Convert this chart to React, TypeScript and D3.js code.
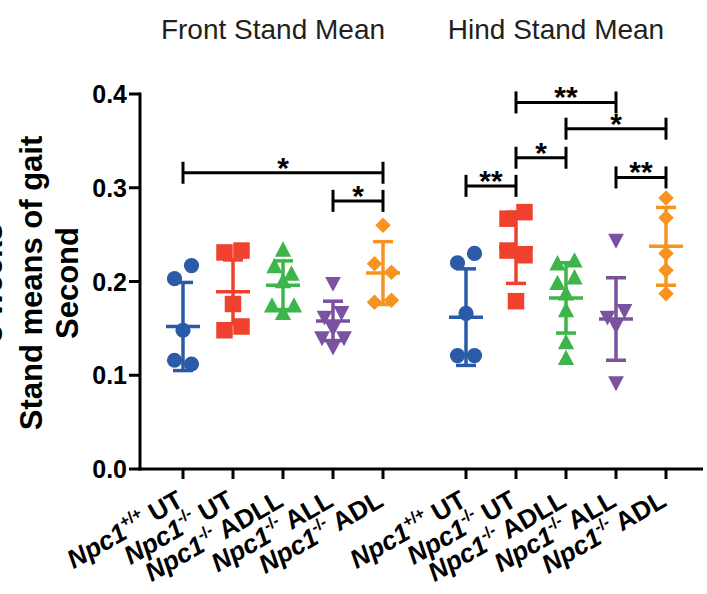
import React from "react";
import * as d3 from "d3";

// ---------- data ----------
const panelTitles = ["Front Stand Mean", "Hind Stand Mean"];
const genotypeSup = ["+/+", "-/-", "-/-", "-/-", "-/-"];
const treatments = ["UT", "UT", "ADLL", "ALL", "ADL"];
const groupColors = ["#2b5ba8", "#ef412e", "#3db54a", "#7b52a1", "#f6941f"];
const groupShapes = ["circle", "square", "triangle", "triangleDown", "diamond"];

const frontValues = [
  [0.203, 0.217, 0.148, 0.116, 0.112],
  [0.231, 0.233, 0.176, 0.148, 0.152],
  [0.2335, 0.216, 0.208, 0.2, 0.174, 0.166, 0.174],
  [0.198, 0.162, 0.167, 0.14, 0.15, 0.14, 0.13],
  [0.26, 0.219, 0.21, 0.178, 0.18],
];
const frontMean = [0.152, 0.189, 0.196, 0.158, 0.209];
const frontSD = [0.047, 0.034, 0.026, 0.021, 0.0335];

const hindValues = [
  [0.22, 0.23, 0.166, 0.121, 0.121],
  [0.267, 0.274, 0.233, 0.228, 0.179],
  [0.219, 0.222, 0.198, 0.204, 0.187, 0.169, 0.135, 0.118],
  [0.244, 0.162, 0.169, 0.153, 0.092],
  [0.289, 0.268, 0.23, 0.212, 0.187],
];
const hindMean = [0.162, 0.236, 0.1825, 0.16, 0.2375];
const hindSD = [0.0515, 0.038, 0.0375, 0.044, 0.0415];

const frontBrackets = [
  { from: 0, to: 4, level: 0.316, label: "*" },
  { from: 3, to: 4, level: 0.286, label: "*" },
];
const hindBrackets = [
  { from: 0, to: 1, level: 0.302, label: "**" },
  { from: 1, to: 2, level: 0.332, label: "*" },
  { from: 2, to: 4, level: 0.363, label: "*" },
  { from: 1, to: 3, level: 0.391, label: "**" },
  { from: 3, to: 4, level: 0.311, label: "**" },
];

const yTicks = [0, 0.1, 0.2, 0.3, 0.4];
const yTitleLines = ["3 weeks", "Stand means of gait", "Second"];

// ---------- layout ----------
const W = 707;
const H = 594;
const axisX = 140;
const y = d3.scaleLinear().domain([0, 0.4]).range([469, 94]);
const idx = d3.range(5).map(String);
const xFront = d3.scalePoint<string>().domain(idx).range([158, 408]).padding(0.5);
const xHind = d3.scalePoint<string>().domain(idx).range([441, 691]).padding(0.5);

// custom symbol types
const symTriangle = {
  draw(ctx: any, size: number) {
    const w = Math.sqrt(size) * 1.05;
    const h = w * 0.95;
    ctx.moveTo(0, -h / 2 - 1);
    ctx.lineTo(w / 2, h / 2 - 1);
    ctx.lineTo(-w / 2, h / 2 - 1);
    ctx.closePath();
  },
};
const symTriangleDown = {
  draw(ctx: any, size: number) {
    const w = Math.sqrt(size) * 1.05;
    const h = w * 0.95;
    ctx.moveTo(0, h / 2 + 1);
    ctx.lineTo(w / 2, -h / 2 + 1);
    ctx.lineTo(-w / 2, -h / 2 + 1);
    ctx.closePath();
  },
};
const symDiamond = {
  draw(ctx: any, size: number) {
    const r = Math.sqrt(size) / 2;
    ctx.moveTo(0, -r);
    ctx.lineTo(r, 0);
    ctx.lineTo(0, r);
    ctx.lineTo(-r, 0);
    ctx.closePath();
  },
};
const shapeMap: Record<string, [any, number]> = {
  circle: [d3.symbolCircle, Math.PI * 7.6 * 7.6],
  square: [d3.symbolSquare, 16.5 * 16.5],
  triangle: [symTriangle, 15.5 * 15.5],
  triangleDown: [symTriangleDown, 15 * 15],
  diamond: [symDiamond, 15.5 * 15.5],
};

function swarmOffsets(vals: number[]): number[] {
  const T = 14;
  const order = vals.map((_, i) => i).sort((a, b) => vals[b] - vals[a]);
  const rows: number[][] = [];
  let cur: number[] = [];
  let firstY = 0;
  order.forEach((i) => {
    const py = y(vals[i]);
    if (cur.length && py - firstY < T) cur.push(i);
    else {
      if (cur.length) rows.push(cur);
      cur = [i];
      firstY = py;
    }
  });
  if (cur.length) rows.push(cur);
  const off = new Array(vals.length).fill(0);
  rows.forEach((r) => {
    r.sort((a, b) => a - b);
    const s = r.length <= 2 ? 17 : 11;
    r.forEach((i, k) => (off[i] = (k - (r.length - 1) / 2) * s));
  });
  return off;
}

const FONT = "'Liberation Sans', Arial, Helvetica, sans-serif";

function Panel({
  x,
  values,
  mean,
  sd,
  brackets,
  title,
}: {
  x: d3.ScalePoint<string>;
  values: number[][];
  mean: number[];
  sd: number[];
  brackets: { from: number; to: number; level: number; label: string }[];
  title: string;
}) {
  const cx = (i: number) => x(String(i)) as number;
  const xs = values.map((_, i) => cx(i));
  const titleX = (xs[0] + xs[4]) / 2 - 10;
  return (
    <g>
      <text
        x={titleX}
        y={39}
        textAnchor="middle"
        fontSize={28}
        fontFamily={FONT}
        fill="#231f20"
      >
        {title}
      </text>
      {/* x ticks */}
      {xs.map((px, i) => (
        <line key={"t" + i} x1={px} x2={px} y1={y(0)} y2={y(0) + 10} stroke="#000" strokeWidth={3} />
      ))}
      {/* x labels */}
      {xs.map((px, i) => (
        <text
          key={"l" + i}
          transform={`translate(${px + 2},${505}) rotate(-30)`}
          textAnchor="end"
          fontSize={26}
          fontWeight="bold"
          fontFamily={FONT}
          fill="#000"
        >
          <tspan fontStyle="italic">Npc1</tspan>
          <tspan fontSize={16} dy={-11}>
            {genotypeSup[i]}
          </tspan>
          <tspan dy={11}>{" " + treatments[i]}</tspan>
        </text>
      ))}
      {/* points */}
      {values.map((vals, i) => {
        const off = swarmOffsets(vals);
        const [type, size] = shapeMap[groupShapes[i]];
        const path = d3.symbol().type(type).size(size)() as string;
        return (
          <g key={"p" + i} fill={groupColors[i]}>
            {vals.map((v, k) => (
              <path key={k} d={path} transform={`translate(${xs[i] + off[k]},${y(v)})`} />
            ))}
          </g>
        );
      })}
      {/* error bars */}
      {values.map((_, i) => {
        const m = mean[i];
        const s = sd[i];
        const px = xs[i];
        return (
          <g key={"e" + i} stroke={groupColors[i]} strokeWidth={3.5} fill="none">
            <line x1={px} x2={px} y1={y(m + s)} y2={y(m - s)} />
            <line x1={px - 10} x2={px + 10} y1={y(m + s)} y2={y(m + s)} />
            <line x1={px - 10} x2={px + 10} y1={y(m - s)} y2={y(m - s)} />
            <line x1={px - 17} x2={px + 17} y1={y(m)} y2={y(m)} />
          </g>
        );
      })}
      {/* significance brackets */}
      {brackets.map((b, k) => {
        const x1 = cx(b.from);
        const x2 = cx(b.to);
        const by = y(b.level);
        return (
          <g key={"b" + k}>
            <g stroke="#000" strokeWidth={3}>
              <line x1={x1} x2={x2} y1={by} y2={by} />
              <line x1={x1} x2={x1} y1={by - 11} y2={by + 11} />
              <line x1={x2} x2={x2} y1={by - 11} y2={by + 11} />
            </g>
            <text
              x={(x1 + x2) / 2}
              y={by + 5}
              textAnchor="middle"
              fontSize={30}
              fontWeight="bold"
              fontFamily={FONT}
              fill="#000"
            >
              {b.label}
            </text>
          </g>
        );
      })}
    </g>
  );
}

export default function App() {
  return (
    <svg
      width={W}
      height={H}
      viewBox={`0 0 ${W} ${H}`}
      style={{ position: "absolute", left: 0, top: 0, background: "#fff" }}
    >
      <rect width={W} height={H} fill="#fff" />
      {/* y axis title */}
      {yTitleLines.map((t, i) => (
        <text
          key={t}
          transform={`translate(${i === 0 ? 2 : 6 + i * 36},283) rotate(-90)`}
          textAnchor="middle"
          fontSize={31}
          fontWeight="bold"
          fontFamily={FONT}
          fill="#000"
        >
          {t}
        </text>
      ))}
      {/* y axis */}
      <line x1={axisX} x2={axisX} y1={y(0.4) - 1.5} y2={y(0) + 1.5} stroke="#000" strokeWidth={3} />
      {yTicks.map((t) => (
        <g key={t}>
          <line x1={axisX - 11} x2={axisX} y1={y(t)} y2={y(t)} stroke="#000" strokeWidth={3} />
          <text
            x={axisX - 13}
            y={y(t) + 9}
            textAnchor="end"
            fontSize={25}
            fontWeight="bold"
            fontFamily={FONT}
            fill="#000"
          >
            {d3.format(".1f")(t)}
          </text>
        </g>
      ))}
      {/* x axis */}
      <line x1={axisX - 1.5} x2={703} y1={y(0)} y2={y(0)} stroke="#000" strokeWidth={3} />
      <Panel x={xFront} values={frontValues} mean={frontMean} sd={frontSD} brackets={frontBrackets} title={panelTitles[0]} />
      <Panel x={xHind} values={hindValues} mean={hindMean} sd={hindSD} brackets={hindBrackets} title={panelTitles[1]} />
    </svg>
  );
}
